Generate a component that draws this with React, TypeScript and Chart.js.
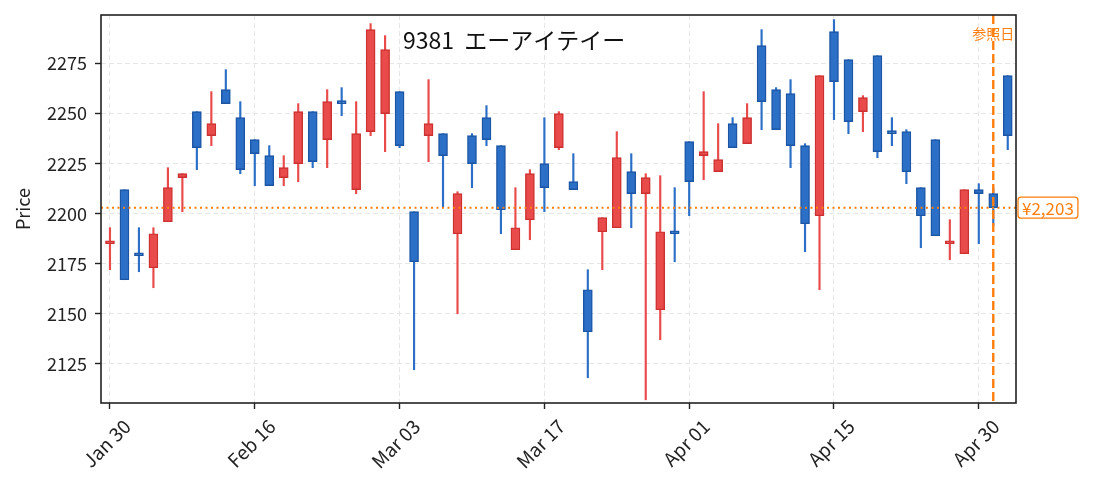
import { useEffect, useRef } from 'react';
import { Chart, registerables } from 'chart.js';
Chart.register(...registerables);

const dates = [
  'Jan 30', 'Feb 02', 'Feb 03', 'Feb 04', 'Feb 05', 'Feb 06', 'Feb 09', 'Feb 10', 'Feb 12', 'Feb 13',
  'Feb 16', 'Feb 17', 'Feb 18', 'Feb 19', 'Feb 20', 'Feb 24', 'Feb 25', 'Feb 26', 'Feb 27', 'Mar 02',
  'Mar 03', 'Mar 04', 'Mar 05', 'Mar 06', 'Mar 09', 'Mar 10', 'Mar 11', 'Mar 12', 'Mar 13', 'Mar 16',
  'Mar 17', 'Mar 18', 'Mar 19', 'Mar 23', 'Mar 24', 'Mar 25', 'Mar 26', 'Mar 27', 'Mar 30', 'Mar 31',
  'Apr 01', 'Apr 02', 'Apr 03', 'Apr 06', 'Apr 07', 'Apr 08', 'Apr 09', 'Apr 10', 'Apr 13', 'Apr 14',
  'Apr 15', 'Apr 16', 'Apr 17', 'Apr 20', 'Apr 21', 'Apr 22', 'Apr 23', 'Apr 24', 'Apr 27', 'Apr 28',
  'Apr 30', 'May 01', 'May 07',
];

const opens = [
  2185, 2212, 2180, 2173, 2196, 2218, 2251, 2239, 2262, 2248,
  2237, 2229, 2218, 2225, 2251, 2237, 2256, 2212, 2241, 2250,
  2261, 2201, 2239, 2240, 2190, 2239, 2248, 2234, 2182, 2197,
  2225, 2233, 2216, 2162, 2191, 2193, 2221, 2210, 2152, 2191,
  2236, 2229, 2221, 2245, 2235, 2284, 2262, 2260, 2234, 2199,
  2291, 2277, 2251, 2279, 2241, 2241, 2213, 2237, 2185, 2180,
  2212, 2210, 2269,
];
const highs = [
  2193, 2212, 2193, 2193, 2223, 2220, 2251, 2261, 2272, 2256,
  2237, 2234, 2229, 2255, 2251, 2262, 2263, 2256, 2295, 2289,
  2261, 2201, 2267, 2240, 2211, 2240, 2254, 2234, 2213, 2222,
  2248, 2251, 2230, 2172, 2198, 2241, 2230, 2220, 2219, 2213,
  2236, 2261, 2245, 2248, 2255, 2292, 2263, 2267, 2235, 2269,
  2297, 2277, 2259, 2279, 2248, 2242, 2213, 2237, 2197, 2212,
  2215, 2213, 2269,
];
const lows = [
  2172, 2167, 2171, 2163, 2196, 2201, 2222, 2234, 2255, 2220,
  2214, 2214, 2214, 2216, 2223, 2223, 2249, 2210, 2239, 2231,
  2233, 2122, 2226, 2203, 2150, 2213, 2234, 2190, 2182, 2187,
  2201, 2232, 2212, 2118, 2172, 2193, 2193, 2107, 2137, 2176,
  2199, 2217, 2221, 2233, 2235, 2242, 2242, 2223, 2181, 2162,
  2247, 2240, 2241, 2228, 2234, 2215, 2183, 2189, 2177, 2180,
  2185, 2194, 2232,
];
const closes = [
  2186, 2167, 2179, 2190, 2213, 2220, 2233, 2245, 2255, 2222,
  2230, 2214, 2223, 2251, 2226, 2256, 2255, 2240, 2292, 2282,
  2234, 2176, 2245, 2229, 2210, 2225, 2237, 2202, 2193, 2220,
  2213, 2250, 2212, 2141, 2198, 2228, 2210, 2218, 2191, 2190,
  2216, 2231, 2227, 2233, 2248, 2256, 2242, 2234, 2195, 2269,
  2266, 2246, 2258, 2231, 2240, 2221, 2199, 2189, 2186, 2212,
  2210, 2203, 2239,
];

const yTicks = [2125, 2150, 2175, 2200, 2225, 2250, 2275];
const xTickIndices = [0, 10, 20, 30, 40, 50, 60];
const refPrice = 2203;
const refIndex = 61;
const titleText = '9381  エーアイテイー';
const refDateText = '参照日';
const yTitle = 'Price';

const FONT = '"Noto Sans CJK JP", "Noto Sans", sans-serif';
const RED_FILL = '#e84b4a';
const RED_EDGE = '#cc3030';
const BLUE_FILL = '#2b6fc6';
const BLUE_EDGE = '#1c55a4';
const ORANGE = '#ff7f0e';
const INK = '#222222';

const decorPlugin = {
  id: 'decor',
  afterDatasetsDraw(chart: any) {
    const { ctx, chartArea, scales } = chart;
    const xs = scales.x;
    const ys = scales.y;
    const py = ys.getPixelForValue(refPrice);
    const px = xs.getPixelForValue(refIndex);
    ctx.save();
    ctx.beginPath();
    ctx.rect(chartArea.left, chartArea.top, chartArea.right - chartArea.left, chartArea.bottom - chartArea.top);
    ctx.clip();
    ctx.strokeStyle = ORANGE;
    ctx.lineWidth = 2;
    ctx.setLineDash([2, 3.5]);
    ctx.beginPath();
    ctx.moveTo(chartArea.left, py);
    ctx.lineTo(chartArea.right, py);
    ctx.stroke();
    ctx.lineWidth = 2.4;
    ctx.setLineDash([9, 4]);
    ctx.beginPath();
    ctx.moveTo(px, chartArea.top);
    ctx.lineTo(px, chartArea.bottom);
    ctx.stroke();
    ctx.restore();

    ctx.save();
    ctx.strokeStyle = INK;
    ctx.lineWidth = 1.6;
    ctx.setLineDash([]);
    ctx.strokeRect(chartArea.left, chartArea.top, chartArea.right - chartArea.left, chartArea.bottom - chartArea.top);

    ctx.fillStyle = '#111';
    ctx.font = `23px ${FONT}`;
    ctx.textAlign = 'center';
    ctx.textBaseline = 'middle';
    ctx.fillText(titleText, chartArea.left + (chartArea.right - chartArea.left) * 0.4515, chartArea.top + 25);

    ctx.fillStyle = ORANGE;
    ctx.font = `14px ${FONT}`;
    ctx.fillText(refDateText, px, chartArea.top + 19);

    const label = '¥' + refPrice.toLocaleString('en-US');
    ctx.font = `17px ${FONT}`;
    const tw = ctx.measureText(label).width;
    const bx = chartArea.right + 2;
    const bw = tw + 8;
    const bh = 21;
    const by = py - bh / 2;
    ctx.beginPath();
    const r = 3;
    ctx.moveTo(bx + r, by);
    ctx.lineTo(bx + bw - r, by);
    ctx.arcTo(bx + bw, by, bx + bw, by + r, r);
    ctx.lineTo(bx + bw, by + bh - r);
    ctx.arcTo(bx + bw, by + bh, bx + bw - r, by + bh, r);
    ctx.lineTo(bx + r, by + bh);
    ctx.arcTo(bx, by + bh, bx, by + bh - r, r);
    ctx.lineTo(bx, by + r);
    ctx.arcTo(bx, by, bx + r, by, r);
    ctx.closePath();
    ctx.fillStyle = '#ffffff';
    ctx.fill();
    ctx.strokeStyle = ORANGE;
    ctx.lineWidth = 1.3;
    ctx.stroke();
    ctx.fillStyle = ORANGE;
    ctx.textAlign = 'left';
    ctx.fillText(label, bx + 4, py + 0.5);
    ctx.restore();
  },
};

export default function App() {
  const ref = useRef<HTMLCanvasElement>(null);
  useEffect(() => {
    const canvas = ref.current;
    if (!canvas) return;
    const up = closes.map((c, i) => c >= opens[i]);
    const chart = new Chart(canvas, {
      type: 'bar',
      data: {
        datasets: [
          {
            label: 'body',
            data: dates.map((_, i) => ({ x: i, y: [opens[i], closes[i]] })) as any,
            backgroundColor: up.map((u) => (u ? RED_FILL : BLUE_FILL)),
            borderColor: up.map((u) => (u ? RED_EDGE : BLUE_EDGE)),
            borderWidth: 1.4,
            borderSkipped: false,
            barThickness: 9,
            minBarLength: 3,
            grouped: false,
            order: 0,
          } as any,
          {
            label: 'wick',
            data: dates.map((_, i) => ({ x: i, y: [lows[i], highs[i]] })) as any,
            backgroundColor: up.map((u) => (u ? RED_FILL : BLUE_FILL)),
            borderWidth: 0,
            barThickness: 1.5,
            grouped: false,
            order: 1,
          } as any,
        ],
      },
      options: {
        animation: false,
        responsive: false,
        layout: { padding: { left: 0, right: 77, top: 15, bottom: 0 } },
        plugins: {
          legend: { display: false },
          tooltip: { enabled: false },
          title: { display: false },
        },
        scales: {
          x: {
            type: 'linear',
            offset: false,
            min: -0.62,
            max: 62.57,
            afterBuildTicks: (s: any) => {
              s.ticks = xTickIndices.map((v) => ({ value: v }));
            },
            afterFit: (s: any) => {
              s.height = 87;
              s.paddingLeft = 0;
              s.paddingRight = 0;
            },
            ticks: {
              autoSkip: false,
              minRotation: 45,
              maxRotation: 45,
              callback: (v: any) => dates[v as number] ?? '',
              font: { family: FONT, size: 19 },
              color: INK,
              padding: 6,
              labelOffset: 17,
            },
            grid: {
              offset: false,
              color: '#e6e6e6',
              lineWidth: 1,
              tickLength: 6,
              tickColor: INK,
              tickWidth: 1.4,
              tickBorderDash: [],
            },
            border: { display: false, dash: [5, 3] },
          },
          y: {
            type: 'linear',
            min: 2105.4,
            max: 2299.3,
            afterBuildTicks: (s: any) => {
              s.ticks = yTicks.map((v) => ({ value: v }));
            },
            afterFit: (s: any) => {
              s.width = 101;
              s.paddingTop = 0;
              s.paddingBottom = 0;
            },
            ticks: {
              font: { family: FONT, size: 18 },
              color: INK,
              padding: 8,
              callback: (v: any) => String(v),
            },
            title: {
              display: true,
              text: yTitle,
              font: { family: FONT, size: 18 },
              color: INK,
              padding: { top: 12, bottom: 0 },
            },
            grid: {
              color: '#e6e6e6',
              lineWidth: 1,
              tickLength: 6,
              tickColor: INK,
              tickWidth: 1.4,
              tickBorderDash: [],
            },
            border: { display: false, dash: [5, 3] },
          },
        },
      } as any,
      plugins: [decorPlugin],
    });
    return () => chart.destroy();
  }, []);
  return (
    <div style={{ position: 'absolute', left: 0, top: 0, width: 1093, height: 490, background: '#fff' }}>
      <canvas ref={ref} width={1093} height={490} style={{ display: 'block', width: 1093, height: 490 }} />
    </div>
  );
}
